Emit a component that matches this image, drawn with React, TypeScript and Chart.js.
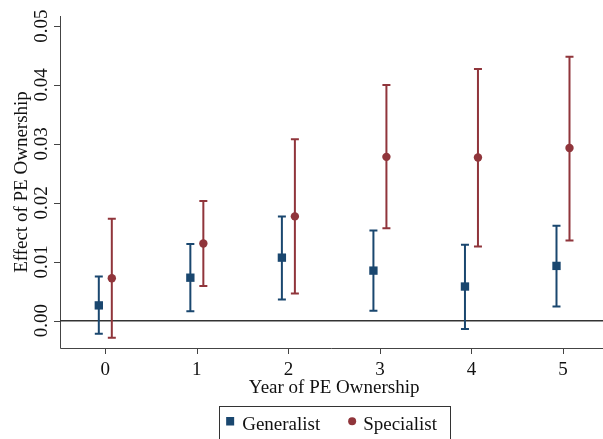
import React, { useEffect, useRef } from "react";
import { Chart, registerables } from "chart.js";

Chart.register(...registerables);

const years = [0, 1, 2, 3, 4, 5];
const xTickLabels = ["0", "1", "2", "3", "4", "5"];
const yTickValues = [0, 0.01, 0.02, 0.03, 0.04, 0.05];
const yTickLabels = ["0.00", "0.01", "0.02", "0.03", "0.04", "0.05"];

const generalistEst = [0.0026, 0.0073, 0.0107, 0.0085, 0.0058, 0.0093];
const generalistLo = [-0.0022, 0.0016, 0.0036, 0.0017, -0.0014, 0.0024];
const generalistHi = [0.0075, 0.013, 0.0177, 0.0153, 0.0129, 0.0161];

const specialistEst = [0.0072, 0.0131, 0.0177, 0.0278, 0.0277, 0.0293];
const specialistLo = [-0.0029, 0.0059, 0.0046, 0.0157, 0.0126, 0.0136];
const specialistHi = [0.0173, 0.0203, 0.0308, 0.04, 0.0427, 0.0448];

const seriesNames = ["Generalist", "Specialist"];
const xTitle = "Year of PE Ownership";
const yTitle = "Effect of PE Ownership";

const BLUE = "#1a476f";
const RED = "#90353b";
const FONT = '"Liberation Serif", "Times New Roman", serif';
const OFFSET = 0.071;

const stataPlugin = {
  id: "stataLook",
  beforeDatasetsDraw(chart: any) {
    const { ctx, chartArea, scales } = chart;
    const x = scales.x;
    const y = scales.y;
    ctx.save();
    // axes
    ctx.strokeStyle = "#444";
    ctx.lineWidth = 1;
    ctx.beginPath();
    ctx.moveTo(chartArea.left + 0.5, chartArea.top);
    ctx.lineTo(chartArea.left + 0.5, chartArea.bottom + 0.5);
    ctx.lineTo(chartArea.right, chartArea.bottom + 0.5);
    ctx.stroke();
    // tick marks
    ctx.beginPath();
    yTickValues.forEach((v) => {
      const py = Math.round(y.getPixelForValue(v)) + 0.5;
      ctx.moveTo(chartArea.left - 6, py);
      ctx.lineTo(chartArea.left, py);
    });
    years.forEach((v) => {
      const px = Math.round(x.getPixelForValue(v)) + 0.5;
      ctx.moveTo(px, chartArea.bottom);
      ctx.lineTo(px, chartArea.bottom + 6);
    });
    ctx.stroke();
    // zero line
    const y0 = y.getPixelForValue(0);
    ctx.strokeStyle = "#333";
    ctx.lineWidth = 1.6;
    ctx.beginPath();
    ctx.moveTo(chartArea.left, y0);
    ctx.lineTo(chartArea.right, y0);
    ctx.stroke();
    // error bars
    const drawBars = (lo: number[], hi: number[], off: number, color: string) => {
      ctx.strokeStyle = color;
      ctx.lineWidth = 2;
      ctx.beginPath();
      years.forEach((yr, i) => {
        const px = x.getPixelForValue(yr + off);
        const pl = y.getPixelForValue(lo[i]);
        const ph = y.getPixelForValue(hi[i]);
        ctx.moveTo(px, pl);
        ctx.lineTo(px, ph);
        ctx.moveTo(px - 4, pl);
        ctx.lineTo(px + 4, pl);
        ctx.moveTo(px - 4, ph);
        ctx.lineTo(px + 4, ph);
      });
      ctx.stroke();
    };
    drawBars(generalistLo, generalistHi, -OFFSET, BLUE);
    drawBars(specialistLo, specialistHi, OFFSET, RED);
    ctx.restore();
  },
  afterDraw(chart: any) {
    const { ctx, chartArea, scales } = chart;
    const x = scales.x;
    const y = scales.y;
    ctx.save();
    ctx.fillStyle = "#111";
    ctx.font = `19px ${FONT}`;
    // y tick labels (rotated)
    yTickValues.forEach((v, i) => {
      ctx.save();
      ctx.translate(chartArea.left - 13, y.getPixelForValue(v));
      ctx.rotate(-Math.PI / 2);
      ctx.textAlign = "center";
      ctx.textBaseline = "alphabetic";
      ctx.fillText(yTickLabels[i], 0, 0);
      ctx.restore();
    });
    // y title
    ctx.save();
    ctx.translate(chartArea.left - 33, (chartArea.top + chartArea.bottom) / 2);
    ctx.rotate(-Math.PI / 2);
    ctx.textAlign = "center";
    ctx.textBaseline = "alphabetic";
    ctx.fillText(yTitle, 0, 0);
    ctx.restore();
    // x tick labels
    ctx.textAlign = "center";
    ctx.textBaseline = "alphabetic";
    years.forEach((v, i) => {
      ctx.fillText(xTickLabels[i], x.getPixelForValue(v), chartArea.bottom + 27);
    });
    const cx = x.getPixelForValue((years[0] + years[years.length - 1]) / 2);
    ctx.fillText(xTitle, cx, chartArea.bottom + 45);
    // legend
    const top = chartArea.bottom + 58;
    ctx.strokeStyle = "#333";
    ctx.lineWidth = 1;
    ctx.strokeRect(Math.round(cx - 115) + 0.5, top + 0.5, 231, 60);
    ctx.fillStyle = BLUE;
    ctx.fillRect(cx - 108, top + 11, 8, 8.5);
    ctx.fillStyle = RED;
    ctx.beginPath();
    ctx.arc(cx + 18, top + 15.3, 4, 0, Math.PI * 2);
    ctx.fill();
    ctx.fillStyle = "#111";
    ctx.textAlign = "left";
    ctx.fillText(seriesNames[0], cx - 92, top + 24);
    ctx.fillText(seriesNames[1], cx + 29, top + 24);
    ctx.restore();
  },
};

export default function App() {
  const ref = useRef<HTMLCanvasElement | null>(null);
  useEffect(() => {
    document.body.style.margin = "0";
    const canvas = ref.current;
    if (!canvas) return;
    const chart = new Chart(canvas, {
      type: "scatter",
      data: {
        datasets: [
          {
            label: seriesNames[0],
            data: years.map((yr, i) => ({ x: yr - OFFSET, y: generalistEst[i] })),
            pointStyle: "rect",
            pointRadius: 5.9,
            backgroundColor: BLUE,
            borderColor: BLUE,
            borderWidth: 0,
          },
          {
            label: seriesNames[1],
            data: years.map((yr, i) => ({ x: yr + OFFSET, y: specialistEst[i] })),
            pointStyle: "circle",
            pointRadius: 4.2,
            backgroundColor: RED,
            borderColor: RED,
            borderWidth: 0,
          },
        ],
      },
      options: {
        animation: false,
        responsive: false,
        devicePixelRatio: 1,
        layout: { autoPadding: false, padding: { left: 60, top: 16, right: 0, bottom: 91 } },
        plugins: { legend: { display: false }, tooltip: { enabled: false } },
        scales: {
          x: { type: "linear", display: false, min: -0.495, max: 5.437 },
          y: { type: "linear", display: false, min: -0.00463, max: 0.0517 },
        },
      },
      plugins: [stataPlugin],
    });
    return () => chart.destroy();
  }, []);
  return (
    <div style={{ width: 603, height: 439, background: "#fff" }}>
      <canvas ref={ref} width={603} height={439} style={{ display: "block" }} />
    </div>
  );
}
